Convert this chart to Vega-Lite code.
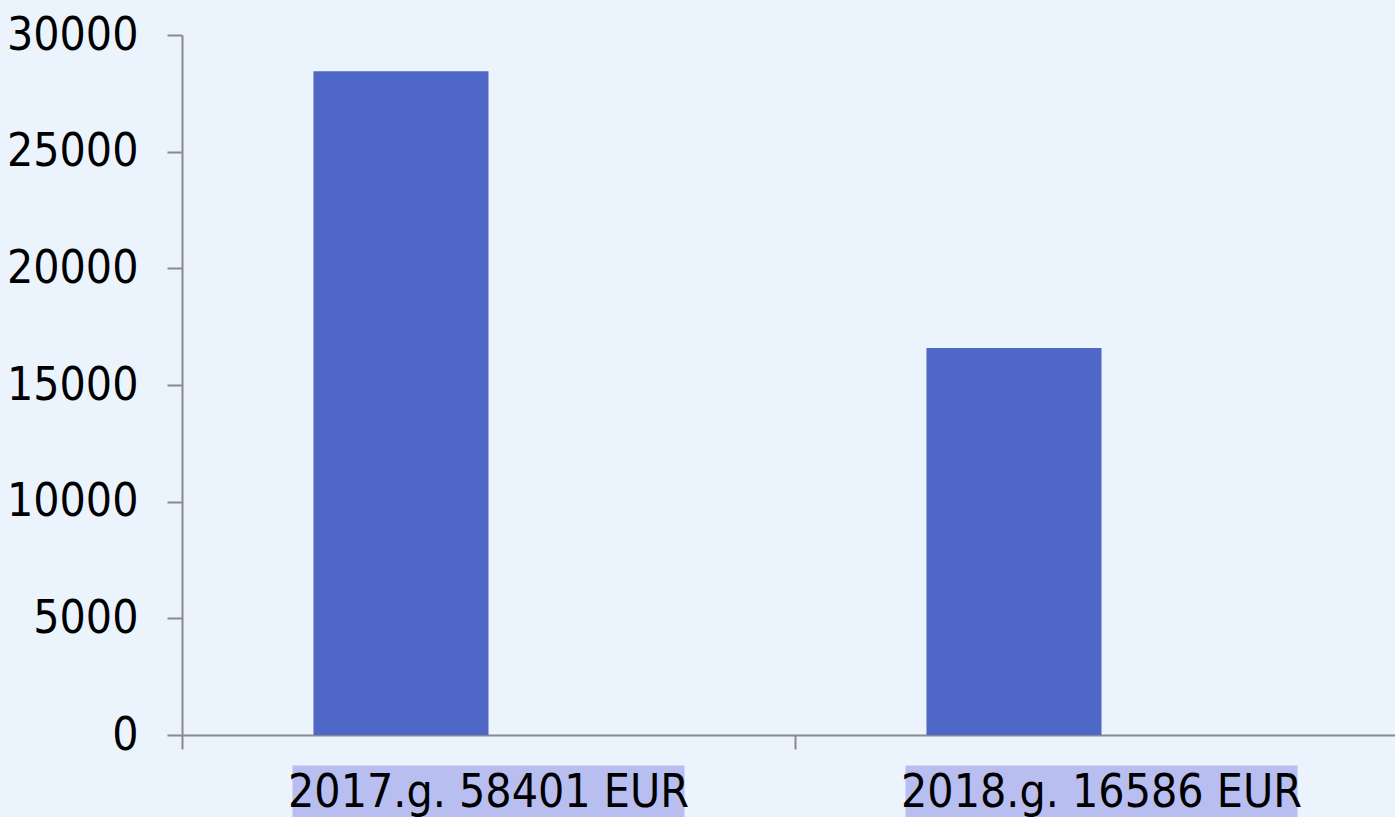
{
  "$schema": "https://vega.github.io/schema/vega-lite/v6.json",
  "autosize": "none",
  "width": 1226,
  "height": 700,
  "padding": {"left": 182, "top": 35, "right": 0, "bottom": 82},
  "background": "#ebf4fd",
  "config": {
    "view": {"stroke": null},
    "font": "DejaVu Sans Condensed"
  },
  "data": {
    "values": [
      {"label": "2017.g. 58401 EUR", "series": "Series 1", "value": 28450},
      {"label": "2018.g. 16586 EUR", "series": "Series 1", "value": 16586}
    ]
  },
  "resolve": {"axis": {"x": "independent"}},
  "layer": [
    {
      "mark": {"type": "bar", "color": "#4f68c8"},
      "encoding": {
        "x": {
          "field": "label", "type": "nominal", "sort": null,
          "scale": {"paddingInner": 0, "paddingOuter": 0},
          "axis": {
            "orient": "bottom", "title": null, "labels": false,
            "tickBand": "extent", "tickSize": 14, "tickWidth": 2, "tickColor": "#8a8a8a",
            "domainColor": "#8a8a8a", "domainWidth": 2
          }
        },
        "xOffset": {
          "field": "series", "type": "nominal",
          "scale": {"domain": ["Series 1", "Series 2"], "paddingInner": 0, "paddingOuter": 0.751}
        },
        "y": {
          "field": "value", "type": "quantitative",
          "scale": {"domain": [0, 30000], "nice": false},
          "axis": {
            "title": null, "values": [0, 5000, 10000, 15000, 20000, 25000, 30000],
            "grid": false, "format": "d",
            "tickSize": 15, "tickWidth": 2, "tickColor": "#8a8a8a",
            "domainColor": "#8a8a8a", "domainWidth": 2,
            "labelFontSize": 46, "labelColor": "#000000", "labelPadding": 29,
            "labelFont": "DejaVu Sans Condensed"
          }
        }
      }
    },
    {
      "mark": {"type": "rule", "opacity": 0},
      "encoding": {
        "x": {
          "field": "label", "type": "nominal", "sort": null,
          "axis": {
            "orient": "bottom", "title": null, "offset": 30, "domain": false,
            "tickSize": 52, "tickWidth": 392, "tickColor": "#b9bef0",
            "labelFontSize": 46, "labelColor": "#000000", "labelFont": "DejaVu Sans Condensed",
            "labelBaseline": "alphabetic", "labelPadding": -11, "labelAngle": 0,
            "labelLimit": 0
          }
        }
      }
    }
  ]
}
